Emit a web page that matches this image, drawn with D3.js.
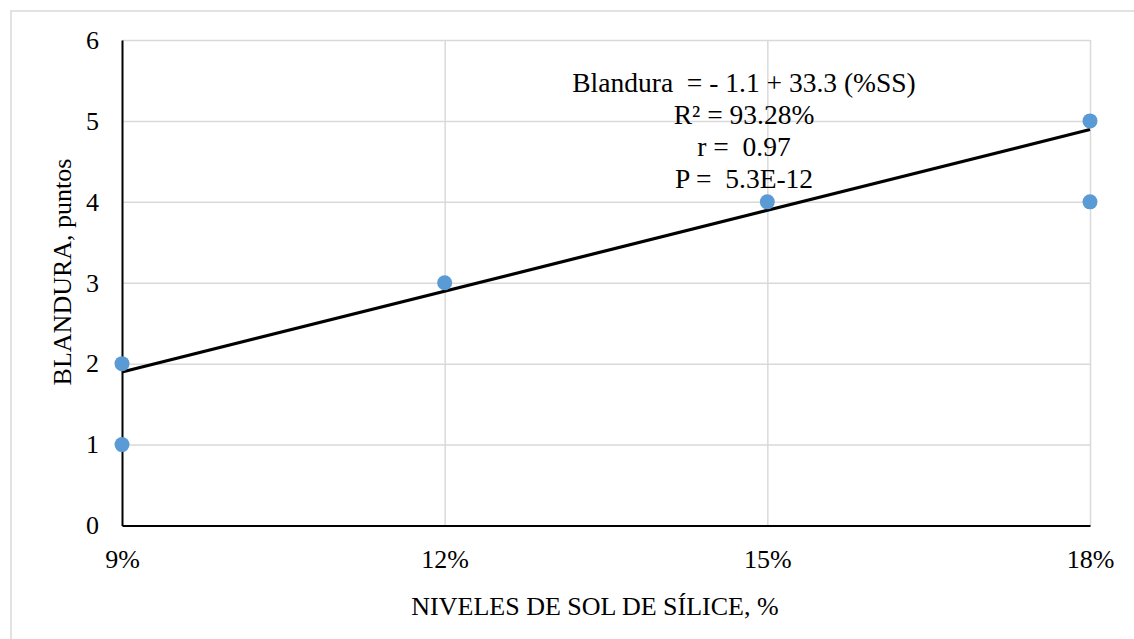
<!DOCTYPE html>
<html>
<head>
<meta charset="utf-8">
<script src="https://cdn.jsdelivr.net/npm/d3@7"></script>
<style>
  html, body { margin: 0; padding: 0; background: #fff; }
  svg { display: block; }
  text { font-family: "Liberation Serif", "Times New Roman", serif; fill: #000; }
</style>
</head>
<body>
<svg id="chart" width="1134" height="639"></svg>
<script>
// Silica sol level (fraction) and tenderness score of each sample
const silicaLevels = [0.09, 0.09, 0.12, 0.15, 0.18, 0.18];
const tenderness   = [1, 2, 3, 4, 4, 5];

// Axis ticks
const xTicks = [0.09, 0.12, 0.15, 0.18];
const xTickLabels = ["9%", "12%", "15%", "18%"];
const yTicks = [0, 1, 2, 3, 4, 5, 6];

// Fitted regression: Blandura = intercept + slope * (%SS)
const fitIntercept = -1.1;
const fitSlope = 33.3;
const annotationLines = [
  "Blandura  = - 1.1 + 33.3 (%SS)",
  "R² = 93.28%",
  "r =  0.97",
  "P =  5.3E-12"
];

const xTitle = "NIVELES DE SOL DE SÍLICE, %";
const yTitle = "BLANDURA, puntos";

const svg = d3.select("#chart");
const W = 1134, H = 639;
const plot = { left: 122, right: 1090, top: 40, bottom: 525.5 };

const x = d3.scaleLinear().domain([0.09, 0.18]).range([plot.left, plot.right]);
const y = d3.scaleLinear().domain([0, 6]).range([plot.bottom, plot.top]);

// Outer chart frame
svg.append("rect")
  .attr("x", 11).attr("y", 11)
  .attr("width", W + 20).attr("height", H + 20)
  .attr("fill", "none").attr("stroke", "#d9d9d9").attr("stroke-width", 1.5);

// Horizontal gridlines
svg.append("g")
  .attr("transform", `translate(${plot.left},0)`)
  .call(d3.axisRight(y).tickValues(yTicks.filter(v => v > 0))
        .tickSize(plot.right - plot.left).tickFormat(""))
  .call(g => g.select(".domain").remove())
  .call(g => g.selectAll("line").attr("stroke", "#d9d9d9").attr("stroke-width", 1.5));

// Vertical gridlines
svg.append("g")
  .attr("transform", `translate(0,${plot.bottom})`)
  .call(d3.axisTop(x).tickValues(xTicks.slice(1))
        .tickSize(plot.bottom - plot.top).tickFormat(""))
  .call(g => g.select(".domain").remove())
  .call(g => g.selectAll("line").attr("stroke", "#d9d9d9").attr("stroke-width", 1.5));

// Y axis
const yAxis = svg.append("g")
  .attr("transform", `translate(${plot.left},0)`)
  .call(d3.axisLeft(y).tickValues(yTicks).tickSize(0).tickPadding(23).tickFormat(d3.format("d")));
yAxis.select(".domain").attr("stroke", "#000").attr("stroke-width", 2);
yAxis.selectAll("text").style("font-size", "26px").attr("font-family", null);

// X axis
const xAxis = svg.append("g")
  .attr("transform", `translate(0,${plot.bottom})`)
  .call(d3.axisBottom(x).tickValues(xTicks).tickSize(0).tickPadding(24)
        .tickFormat((d, i) => xTickLabels[i]));
xAxis.select(".domain").attr("stroke", "#000").attr("stroke-width", 2);
xAxis.selectAll("text").style("font-size", "26px").attr("font-family", null);

// Regression line
const fitLine = [xTicks[0], xTicks[xTicks.length - 1]]
  .map(v => [v, fitIntercept + fitSlope * v]);
svg.append("path")
  .datum(fitLine)
  .attr("d", d3.line().x(d => x(d[0])).y(d => y(d[1])))
  .attr("fill", "none").attr("stroke", "#000").attr("stroke-width", 3.2);

// Observations
svg.append("g")
  .selectAll("circle")
  .data(silicaLevels.map((v, i) => [v, tenderness[i]]))
  .join("circle")
  .attr("cx", d => x(d[0]))
  .attr("cy", d => y(d[1]))
  .attr("r", 7.5)
  .attr("fill", "#5b9bd5");

// Equation and statistics
svg.append("g")
  .selectAll("text")
  .data(annotationLines)
  .join("text")
  .attr("x", 744)
  .attr("y", (d, i) => 91.5 + i * 32)
  .attr("text-anchor", "middle")
  .style("font-size", "27.5px")
  .style("white-space", "pre")
  .text(d => d);

// Axis titles
svg.append("text")
  .attr("x", 595).attr("y", 615)
  .attr("text-anchor", "middle")
  .style("font-size", "26px")
  .text(xTitle);

svg.append("text")
  .attr("transform", `translate(71,272) rotate(-90)`)
  .attr("text-anchor", "middle")
  .style("font-size", "26px")
  .text(yTitle);
</script>
</body>
</html>
